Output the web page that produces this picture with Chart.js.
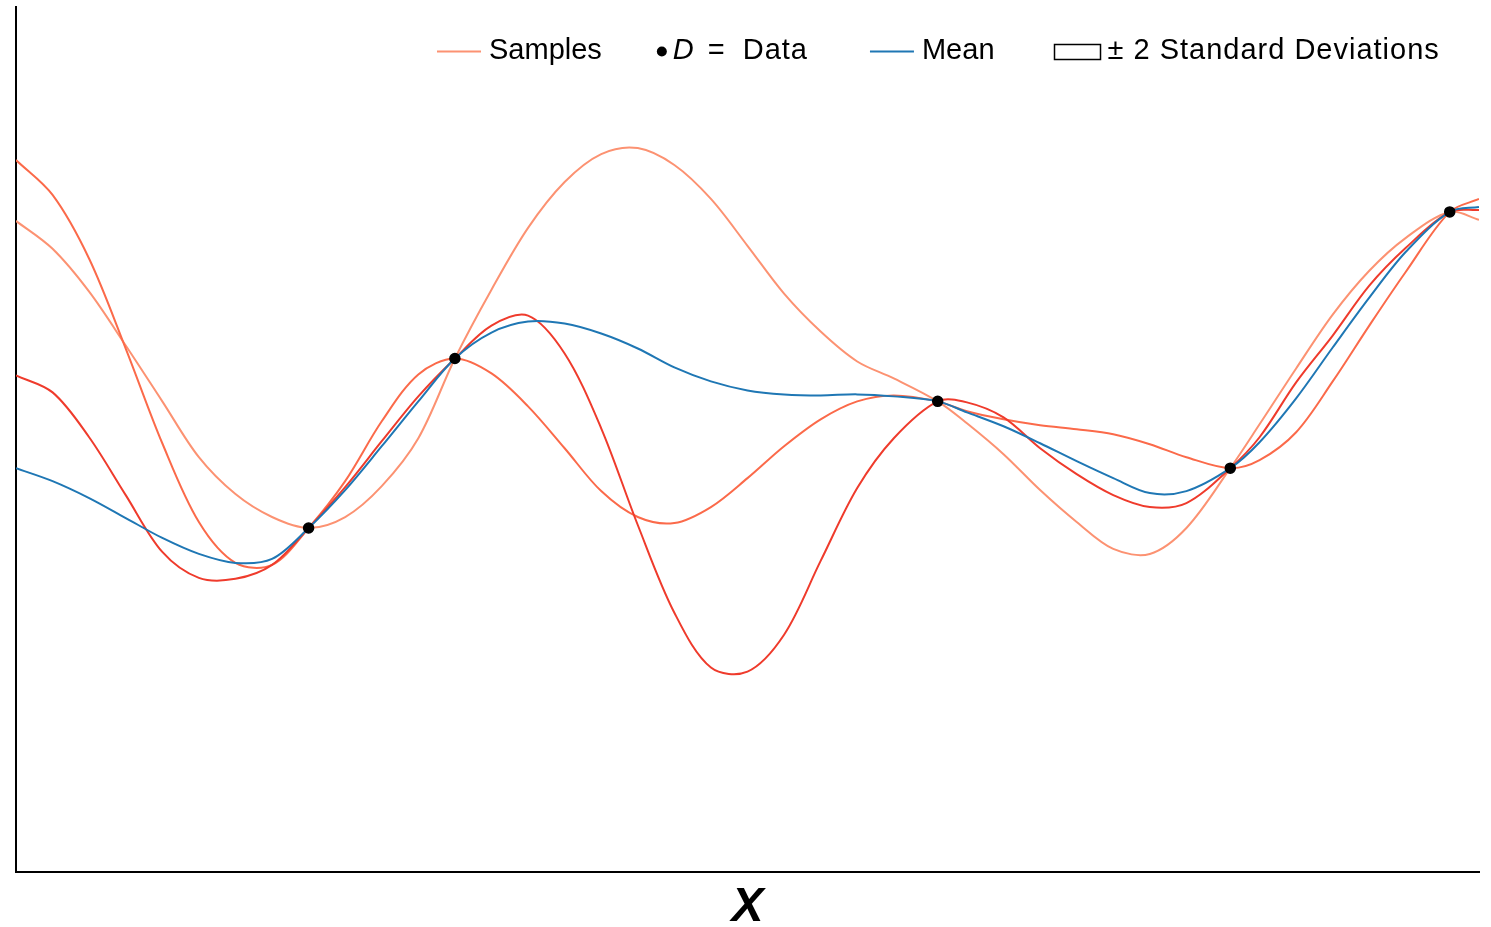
<!DOCTYPE html>
<html>
<head>
<meta charset="utf-8">
<title>Proceso gaussiano</title>
<script src="https://cdn.jsdelivr.net/npm/chart.js@4.4.1/dist/chart.umd.min.js"></script>
<style>
    html, body { margin: 0; padding: 0; background: #ffffff; }
    #contenedor { width: 1491px; height: 927px; }
</style>
</head>
<body>
<div id="contenedor"><canvas id="grafico_gp"></canvas></div>
<script>
// puntos de la malla en X (incluye las x de los datos observados)
var xs = [0, 0.25, 0.5, 0.75, 1, 1.25, 1.5, 1.75, 2, 2.25, 2.5, 2.75, 3, 3.25, 3.5, 3.75,
          4, 4.25, 4.5, 4.75, 5, 5.25, 5.5, 5.75, 6, 6.3, 6.5, 6.75, 7, 7.25, 7.5, 7.75,
          8, 8.3, 8.5, 8.75, 9, 9.25, 9.5, 9.8, 10];

// media posterior
var media = [-0.29, -0.42, -0.59, -0.79, -0.99, -1.15, -1.24, -1.20, -0.89, -0.51, -0.07, 0.38,
             0.81, 1.07, 1.18, 1.16, 1.06, 0.91, 0.72, 0.58, 0.49, 0.45, 0.44, 0.45, 0.43, 0.38,
             0.27, 0.13, -0.04, -0.22, -0.39, -0.54, -0.52, -0.29, -0.03, 0.41, 0.92, 1.42, 1.88,
             2.28, 2.33];

// tres muestras de la posterior
var muestra_clara = [2.19, 1.91, 1.48, 0.94, 0.38, -0.18, -0.55, -0.78, -0.89, -0.78, -0.47, 0.01,
                     0.81, 1.50, 2.12, 2.58, 2.86, 2.92, 2.75, 2.41, 1.94, 1.46, 1.08, 0.78, 0.61,
                     0.38, 0.16, -0.15, -0.51, -0.83, -1.10, -1.15, -0.89, -0.29, 0.15, 0.71, 1.25,
                     1.69, 2.02, 2.28, 2.20];
var muestra_media = [2.80, 2.45, 1.81, 0.91, -0.04, -0.83, -1.24, -1.26, -0.89, -0.42, 0.18, 0.65,
                     0.81, 0.66, 0.33, -0.09, -0.52, -0.78, -0.84, -0.68, -0.39, -0.07, 0.20, 0.38,
                     0.44, 0.38, 0.28, 0.20, 0.14, 0.10, 0.05, -0.05, -0.18, -0.29, -0.21, 0.07,
                     0.58, 1.14, 1.68, 2.28, 2.41];
var muestra_roja = [0.64, 0.47, 0.02, -0.56, -1.13, -1.39, -1.40, -1.26, -0.89, -0.48, -0.02, 0.43,
                    0.81, 1.14, 1.24, 0.86, 0.11, -0.86, -1.74, -2.29, -2.33, -1.96, -1.22, -0.49,
                    0.01, 0.38, 0.37, 0.22, -0.09, -0.35, -0.56, -0.68, -0.64, -0.29, 0.02, 0.57,
                    1.04, 1.54, 1.92, 2.28, 2.30];

// observaciones D
var datos_x = [2, 3, 6.3, 8.3, 9.8];
var datos_y = [-0.89, 0.81, 0.38, -0.29, 2.28];

var color_muestras = ["#fc9272", "#fb6a4a", "#ef3b2c"];
var color_media = "#1f77b4";
var fuente = "\"Liberation Sans\", Arial, sans-serif";

function puntos(ys) {
    return xs.map(function (x, i) { return { x: x, y: ys[i] }; });
}

function curva(ys, color, orden) {
    return {
        type: "line",
        data: puntos(ys),
        borderColor: color,
        borderWidth: 2,
        pointRadius: 0,
        tension: 0.33,
        fill: false,
        order: orden,
    };
}

// leyenda dibujada a mano para poder poner la D en cursiva
var leyenda = {
    id: "leyenda",
    afterDraw: function (chart) {
        var ctx = chart.ctx;
        var area = chart.chartArea;
        var y = area.top + 44;
        var x = area.left + 421;
        var normal = "29px " + fuente;
        ctx.save();
        ctx.textBaseline = "middle";
        ctx.textAlign = "left";
        ctx.fillStyle = "#000";
        ctx.font = normal;

        ctx.strokeStyle = color_muestras[0];
        ctx.lineWidth = 2;
        ctx.beginPath();
        ctx.moveTo(x, y + 1);
        ctx.lineTo(x + 44, y + 1);
        ctx.stroke();
        x += 52;
        ctx.fillText("Samples", x, y);
        x += ctx.measureText("Samples").width + 60;

        ctx.beginPath();
        ctx.arc(x, y + 1, 5, 0, Math.PI * 2);
        ctx.fill();
        x += 11;
        ctx.font = "italic 29px " + fuente;
        ctx.fillText("D", x, y);
        x += ctx.measureText("D").width + 14;
        ctx.font = normal;
        ctx.fillText("=", x, y);
        x += ctx.measureText("=").width + 18;
        ctx.letterSpacing = "1px";
        ctx.fillText("Data", x, y);
        x += ctx.measureText("Data").width + 62;
        ctx.letterSpacing = "0px";

        ctx.strokeStyle = color_media;
        ctx.beginPath();
        ctx.moveTo(x, y + 1);
        ctx.lineTo(x + 44, y + 1);
        ctx.stroke();
        x += 52;
        ctx.fillText("Mean", x, y);
        x += ctx.measureText("Mean").width + 60;

        ctx.strokeStyle = "#000";
        ctx.lineWidth = 1.5;
        ctx.strokeRect(x, y - 6, 46, 15);
        x += 53;
        ctx.letterSpacing = "1px";
        ctx.fillText("\u00b1 2 Standard Deviations", x, y);
        ctx.restore();
    },
};

document.addEventListener("DOMContentLoaded", function () {
    var ctx = document.getElementById("grafico_gp").getContext("2d");
    var myChart = new Chart(ctx, {
        data: {
            datasets: [
                {
                    type: "scatter",
                    data: datos_x.map(function (x, i) { return { x: x, y: datos_y[i] }; }),
                    pointRadius: 5,
                    pointBackgroundColor: "#000",
                    pointBorderColor: "#000",
                    pointBorderWidth: 1.5,
                    order: 0,
                },
                curva(media, color_media, 1),
                curva(muestra_roja, color_muestras[2], 2),
                curva(muestra_media, color_muestras[1], 3),
                curva(muestra_clara, color_muestras[0], 4),
            ],
        },
        options: {
            responsive: true,
            maintainAspectRatio: false,
            animation: false,
            devicePixelRatio: 1,
            layout: { padding: { left: 16, right: 12, top: 4, bottom: 0 } },
            plugins: {
                legend: { display: false },
                tooltip: { enabled: false },
            },
            scales: {
                x: {
                    type: "linear",
                    min: 0,
                    max: 10,
                    grid: { display: false },
                    ticks: { display: false },
                    border: { display: true, color: "#000", width: 2 },
                    title: {
                        display: true,
                        text: "X",
                        color: "#000",
                        padding: 0,
                        font: { family: fuente, size: 48, style: "italic", weight: "bold", lineHeight: 0.82 },
                    },
                    afterFit: function (scale) { scale.height = 55; },
                },
                y: {
                    type: "linear",
                    min: -4.34,
                    max: 4.34,
                    grid: { display: false },
                    ticks: { display: false },
                    border: { display: true, color: "#000", width: 2 },
                    afterFit: function (scale) { scale.width = 0; },
                },
            },
        },
        plugins: [leyenda],
    });
});
</script>
</body>
</html>
